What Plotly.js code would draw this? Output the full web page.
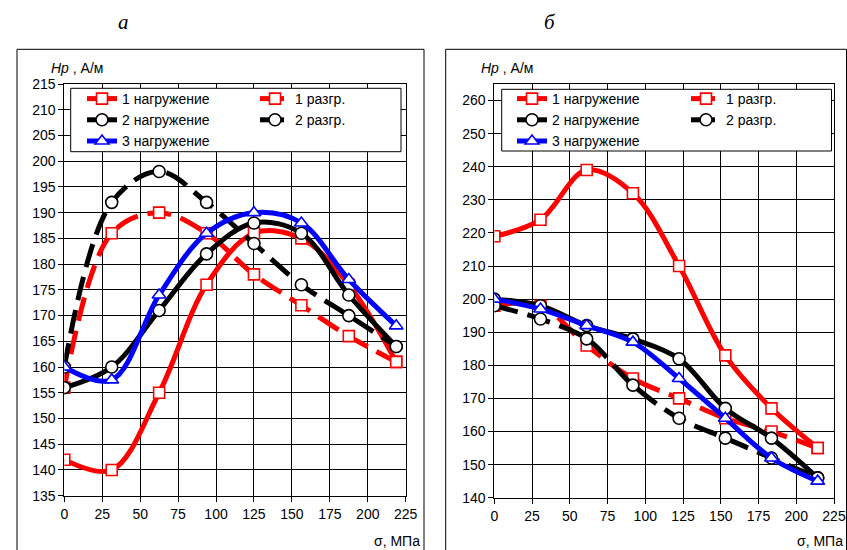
<!DOCTYPE html>
<html>
<head>
<meta charset="utf-8">
<script src="https://cdn.plot.ly/plotly-3.0.1.min.js"></script>
<style>html,body{margin:0;padding:0;background:#fff}#chart{width:847px;height:550px}</style>
</head>
<body>
<div id="chart"></div>
<script>
// ---- data ----
var seriesNames = ["1 нагружение", "1 разгр.", "2 нагружение", "2 разгр.", "3 нагружение"];

// panel а
var xLeft = [0, 31.25, 62.5, 93.75, 125, 156.25, 187.5, 218.75];
var leftLoad1   = [142, 140, 155, 176, 186, 185, 176, 161];
var leftUnload1 = [156, 186, 190, 186, 178, 172, 166, 161];
var leftLoad2   = [156, 160, 171, 182, 188, 186, 174, 164];
var leftUnload2 = [160, 192, 198, 192, 184, 176, 170, 164];
var leftLoad3   = [160, 157.5, 174, 186, 190, 188, 177, 168];

// panel б
var xRight = [0, 30.6, 61.2, 91.8, 122.4, 153, 183.6, 214.2];
var rightLoad1   = [219, 224, 239, 232, 210, 183, 167, 155];
var rightUnload1 = [198, 198, 186, 176, 170, 164, 160, 155];
var rightLoad2   = [200, 198, 192, 188, 182, 167, 158, 146];
var rightUnload2 = [198, 194, 188, 174, 164, 158, 152, 146];
var rightLoad3   = [200, 197, 192, 187, 176, 164, 152, 145];

var xRange = [0, 225];
var xStep = 25;

// ---- styles ----
var W = 847, H = 550;
function px(x) { return x / W; }
function py(y) { return 1 - y / H; }

var DASH = "24px,10px";
var styles = [
  {color: "#ff0000", dash: "solid", symbol: "square", size: 11},
  {color: "#ff0000", dash: DASH, symbol: "square", size: 11},
  {color: "#000000", dash: "solid", symbol: "circle", size: 12},
  {color: "#000000", dash: DASH, symbol: "circle", size: 12},
  {color: "#0000ff", dash: "solid", symbol: "triangle-up", size: 12}
];

function mk(x, y, i, xa, ya, lg) {
  var s = styles[i];
  return {
    type: "scatter", mode: "lines+markers",
    x: x, y: y, xaxis: xa, yaxis: ya,
    name: seriesNames[i], legend: lg,
    line: {color: s.color, width: 5, dash: s.dash, shape: "spline", smoothing: 1},
    marker: {symbol: s.symbol, size: s.size, color: "#ffffff", line: {color: s.color, width: 1.6}},
    hoverinfo: "x+y"
  };
}

var data = [
  mk(xLeft, leftLoad1, 0, "x", "y", "legend"),
  mk(xLeft, leftUnload1, 1, "x", "y", "legend2"),
  mk(xLeft, leftLoad2, 2, "x", "y", "legend"),
  mk(xLeft, leftUnload2, 3, "x", "y", "legend2"),
  mk(xLeft, leftLoad3, 4, "x", "y", "legend"),
  mk(xRight, rightLoad1, 0, "x2", "y2", "legend3"),
  mk(xRight, rightUnload1, 1, "x2", "y2", "legend4"),
  mk(xRight, rightLoad2, 2, "x2", "y2", "legend3"),
  mk(xRight, rightUnload2, 3, "x2", "y2", "legend4"),
  mk(xRight, rightLoad3, 4, "x2", "y2", "legend3")
];

var FONT = "Arial, 'Liberation Sans', sans-serif";
var tickFont = {family: FONT, size: 14, color: "#000"};

function xax(domain, anchor) {
  return {
    domain: domain, anchor: anchor, range: [xRange[0], xRange[1]],
    tickmode: "linear", tick0: 0, dtick: xStep,
    showgrid: true, gridcolor: "#000", gridwidth: 1,
    showline: true, linecolor: "#000", linewidth: 1, mirror: true,
    ticks: "outside", ticklen: 5, tickcolor: "#000", tickwidth: 1,
    tickfont: tickFont, zeroline: false, fixedrange: true,
    ticklabeloverflow: "allow"
  };
}
function yax(domain, anchor, range, dtick) {
  return {
    domain: domain, anchor: anchor, range: range,
    tickmode: "linear", tick0: range[0], dtick: dtick,
    showgrid: true, gridcolor: "#000", gridwidth: 1,
    showline: true, linecolor: "#000", linewidth: 1, mirror: true,
    ticks: "outside", ticklen: 5, tickcolor: "#000", tickwidth: 1,
    tickfont: tickFont, zeroline: false, fixedrange: true,
    ticklabeloverflow: "allow"
  };
}

function legendAt(xp, yp) {
  return {
    x: px(xp), y: py(yp), xanchor: "left", yanchor: "top",
    orientation: "v", bgcolor: "rgba(0,0,0,0)", borderwidth: 0,
    font: {family: FONT, size: 14, color: "#000"},
    tracegroupgap: 0, itemclick: false, itemdoubleclick: false
  };
}

var layout = {
  width: W, height: H,
  margin: {l: 0, r: 0, t: 0, b: 0},
  paper_bgcolor: "#fff", plot_bgcolor: "#fff",
  showlegend: true,
  xaxis: xax([px(64.3), px(405.7)], "y"),
  yaxis: yax([py(495.7), py(84)], "x", [135, 215], 5),
  xaxis2: xax([px(494.3), px(834)], "y2"),
  yaxis2: yax([py(497.7), py(84)], "x2", [140, 265], 10),
  legend: legendAt(82, 83),
  legend2: legendAt(255, 83),
  legend3: legendAt(512, 83),
  legend4: legendAt(686, 83),
  shapes: [
    {type: "rect", xref: "paper", yref: "paper", x0: px(17), x1: px(424), y0: -0.02, y1: py(49.3),
     line: {color: "#000", width: 1}, fillcolor: "rgba(0,0,0,0)", layer: "below"},
    {type: "rect", xref: "paper", yref: "paper", x0: px(445.7), x1: px(846.5), y0: -0.02, y1: py(49.3),
     line: {color: "#000", width: 1}, fillcolor: "rgba(0,0,0,0)", layer: "below"},
    {type: "rect", xref: "paper", yref: "paper", x0: px(70.7), x1: px(401), y0: py(151.7), y1: py(88.3),
     line: {color: "#000", width: 1}, fillcolor: "#fff", layer: "above"},
    {type: "rect", xref: "paper", yref: "paper", x0: px(501.7), x1: px(831.5), y0: py(151), y1: py(89.3),
     line: {color: "#000", width: 1}, fillcolor: "#fff", layer: "above"}
  ],
  annotations: [
    {xref: "paper", yref: "paper", x: px(124), y: py(22), xanchor: "center", yanchor: "middle",
     text: "<i>а</i>", showarrow: false, font: {family: "'Liberation Serif', 'Times New Roman', serif", size: 21, color: "#000"}},
    {xref: "paper", yref: "paper", x: px(550), y: py(22), xanchor: "center", yanchor: "middle",
     text: "<i>б</i>", showarrow: false, font: {family: "'Liberation Serif', 'Times New Roman', serif", size: 21, color: "#000"}},
    {xref: "paper", yref: "paper", x: px(49), y: py(68), xanchor: "left", yanchor: "middle",
     text: "<i>Hp</i> , А/м", showarrow: false, font: {family: FONT, size: 14, color: "#000"}},
    {xref: "paper", yref: "paper", x: px(479), y: py(68), xanchor: "left", yanchor: "middle",
     text: "<i>Hp</i> , А/м", showarrow: false, font: {family: FONT, size: 14, color: "#000"}},
    {xref: "paper", yref: "paper", x: px(422), y: py(541), xanchor: "right", yanchor: "middle",
     text: "σ, МПа", showarrow: false, font: {family: FONT, size: 14, color: "#000"}},
    {xref: "paper", yref: "paper", x: px(845), y: py(541), xanchor: "right", yanchor: "middle",
     text: "σ, МПа", showarrow: false, font: {family: FONT, size: 14, color: "#000"}}
  ]
};

function revealTickLabels() {
  document.querySelectorAll("g.x2tick, g.x2tick text, g.xtick, g.xtick text").forEach(function (el) {
    el.style.display = "";
    el.style.opacity = "1";
    el.removeAttribute("clip-path");
    el.removeAttribute("display");
  });
  document.querySelectorAll(".xaxislayer-above").forEach(function (el) {
    el.removeAttribute("clip-path");
  });
}

Plotly.newPlot("chart", data, layout, {displayModeBar: false, staticPlot: true}).then(function () {
  revealTickLabels();
  setTimeout(revealTickLabels, 50);
});
</script>
</body>
</html>
